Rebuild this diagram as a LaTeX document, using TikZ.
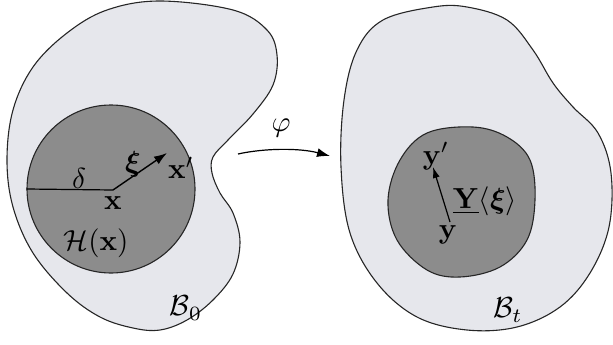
\documentclass[tikz,border=0pt]{standalone}
\usepackage{amsmath,amssymb,bm}
\usetikzlibrary{arrows.meta}
\definecolor{bodyfill}{HTML}{E6E7EC}
\definecolor{hoodfill}{HTML}{8C8C8C}
\tikzset{
  outline/.style={draw=black!85, line width=1.1pt},
  vec/.style={line width=1.4pt, -{Latex[length=13pt,width=9pt]}},
  lbl/.style={inner sep=0pt, scale=2.9}
}
\begin{document}
\begin{tikzpicture}[x=1pt,y=-1pt]
\useasboundingbox (0,0) rectangle (613,345);
% left body B0
\path[outline, fill=bodyfill] plot[smooth cycle, tension=0.6] coordinates {
 (160,1) (233,10) (267,30) (277,55) (273,85) (253,114) (228,140) (213,157) (212,173)
 (220,193) (233,213) (240,242) (233,274) (213,300) (187,320) (160,330) (133,328)
 (100,317) (67,293) (33,253) (13,207) (7,160) (13,110) (33,67) (67,33) (107,10)};
% horizon circle
\node[outline, fill=hoodfill, circle, minimum size=168pt, inner sep=0pt] (H) at (111,189) {};
\coordinate (x) at (113,190);
\coordinate (xp) at (167,153);
\draw[line width=1.2pt] (H.west) -- (x);
\draw[vec] (x) -- (xp);
\node[lbl] (delta) at (79,178) {$\delta$};
\node[lbl] (xi) at (133,164) {$\bm{\xi}$};
\node[lbl] (xplbl) at (181,168) {$\mathbf{x}'$};
\node[lbl] (xlbl) at (113,203) {$\mathbf{x}$};
\node[lbl] (Hlbl) at (96,243) {$\mathcal{H}(\mathbf{x})$};
\node[lbl] (B0) at (186,308) {$\mathcal{B}_0$};
% map arrow
\coordinate (ms) at (238,154);
\coordinate (me) at (330,156);
\draw[vec, line width=1.2pt] (ms) .. controls (265,148) and (300,148) .. (me);
\node[lbl] (phi) at (281,128) {$\varphi$};
% right body Bt
\path[outline, fill=bodyfill] plot[smooth cycle, tension=0.6] coordinates {
 (433,7) (467,7) (507,20) (533,50) (553,83) (573,107) (598,133) (611,173) (609,227)
 (590,273) (560,307) (517,327) (467,330) (417,317) (377,283) (350,233) (341,167)
 (344,100) (357,50) (383,20)};
\path[outline, fill=hoodfill] plot[smooth cycle, tension=0.6] coordinates {
 (427,133) (400,160) (388,200) (397,240) (427,270) (460,277) (500,267) (527,240)
 (535,200) (530,160) (507,137) (473,127)};
\coordinate (y) at (450,222);
\coordinate (yp) at (433,167);
\draw[vec, -{Latex[length=11pt,width=7pt]}, line width=1.2pt] (y) -- (yp);
\node[lbl] (ylbl) at (448,235) {$\mathbf{y}$};
\node[lbl] (yplbl) at (436,156) {$\mathbf{y}'$};
\node[lbl] (Ylbl) at (485,201) {$\underline{\mathbf{Y}}\langle\bm{\xi}\rangle$};
\node[lbl] (Bt) at (508,310) {$\mathcal{B}_t$};
\end{tikzpicture}
\end{document}
